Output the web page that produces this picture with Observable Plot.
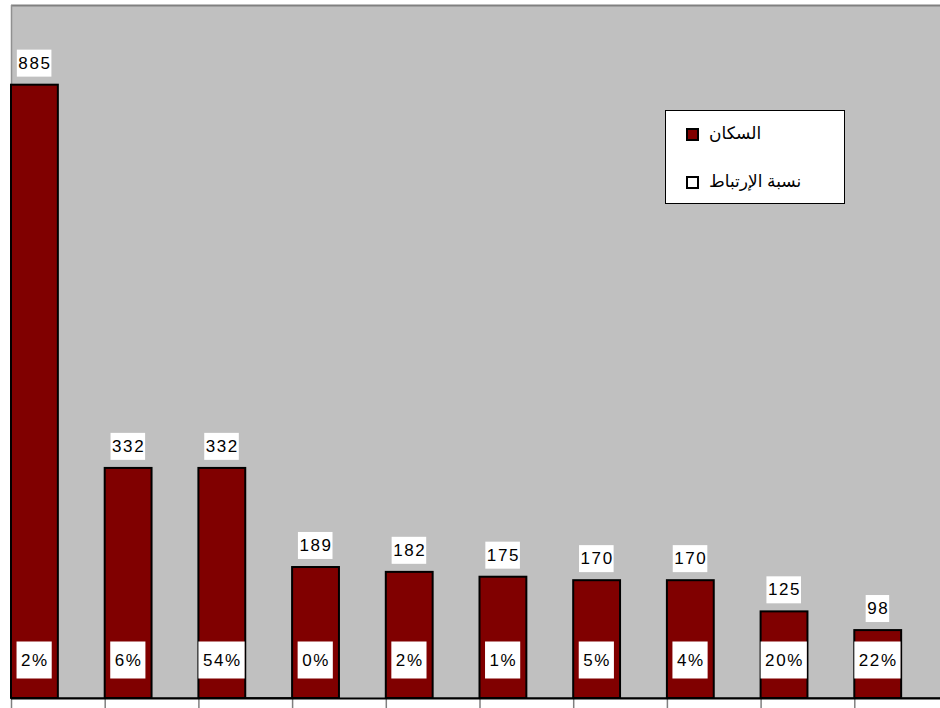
<!DOCTYPE html>
<html>
<head>
<meta charset="utf-8">
<script src="https://cdn.jsdelivr.net/npm/d3@7"></script>
<script src="https://cdn.jsdelivr.net/npm/@observablehq/plot@0.6"></script>
<style>
  html, body { margin: 0; padding: 0; background: #fff; }
  #wrap { position: relative; width: 940px; height: 708px; overflow: hidden; background: #fff; }
  #chart { width: 950px; }
  #chart svg { display: block; max-width: none !important; width: 950px !important; height: 708px !important; }
  #chart svg text { letter-spacing: 1.6px; }
  #legend { position: absolute; left: 665px; top: 110px; width: 178px; height: 92px; background: #fff; border: 1px solid #000; font-family: "Liberation Sans", "DejaVu Sans", Arial, sans-serif; font-size: 17px; color: #000; }
  .sw { position: absolute; width: 9px; height: 9px; border: 2px solid #000; }
  .lt { position: absolute; white-space: nowrap; line-height: 18px; }
</style>
</head>
<body>
<div id="wrap">
  <div id="chart"></div>
  <div id="legend"></div>
</div>
<script>
// Data
const categories = ["1","2","3","4","5","6","7","8","9","10"];
const population = [885, 332, 332, 189, 182, 175, 170, 170, 125, 98];
const ratio = [0.02, 0.06, 0.54, 0.00, 0.02, 0.01, 0.05, 0.04, 0.20, 0.22];
const ratioLabels = ["2%", "6%", "54%", "0%", "2%", "1%", "5%", "4%", "20%", "22%"];
const seriesNames = ["السكان", "نسبة الإرتباط"];
const seriesColors = ["#800000", "#ffffff"];

const data = categories.map((c, i) => ({i, c, pop: population[i], ratio: ratio[i], label: ratioLabels[i]}));
const boundaries = d3.range(categories.length + 1);

const fontFamily = '"Liberation Sans", Arial, sans-serif';

const chart = Plot.plot({
  width: 950,
  height: 708,
  marginLeft: 11,
  marginRight: 2,
  marginTop: 5,
  marginBottom: 10,
  style: {background: "#ffffff", fontFamily, fontSize: "17px", color: "#000"},
  x: {domain: [0, categories.length], axis: null},
  y: {domain: [0, 1000], axis: null},
  marks: [
    Plot.frame({fill: "#c0c0c0", stroke: null}),
    Plot.ruleY([1000], {stroke: "#808080", strokeWidth: 2}),
    Plot.ruleX([0], {stroke: "#909090", strokeWidth: 1.5}),
    Plot.rectY(data, {x1: d => d.i, x2: d => d.i + 0.5, y: "pop", fill: seriesColors[0], stroke: "#000", strokeWidth: 2}),
    Plot.rectY(data, {x1: d => d.i + 0.5, x2: d => d.i + 1, y: "ratio", fill: seriesColors[1], stroke: "#000", strokeWidth: 1}),
    Plot.ruleX(boundaries, {y1: 0, y2: -16, stroke: "#808080", strokeWidth: 1.5}),
    Plot.ruleY([0], {stroke: "#000", strokeWidth: 2}),
    Plot.text(data, {x: d => d.i + 0.25, y: "pop", dy: -22, text: d => String(d.pop), fontSize: 17, fill: "#000", ariaDescription: "vals"}),
    Plot.text(data, {x: d => d.i + 0.25, frameAnchor: "bottom", dy: -33, text: "label", fontSize: 17, fill: "#000", ariaDescription: "pcts"})
  ]
});

document.getElementById("chart").appendChild(chart);

function boxes(label, padX, h) {
  chart.querySelectorAll(`g[aria-description="${label}"] text`).forEach(t => {
    const b = t.getBBox();
    const r = document.createElementNS("http://www.w3.org/2000/svg", "rect");
    const cy = b.y + b.height / 2;
    r.setAttribute("x", b.x - padX);
    r.setAttribute("y", cy - h / 2);
    r.setAttribute("width", b.width + padX * 2 - 1.6);
    r.setAttribute("height", h);
    r.setAttribute("fill", "#fff");
    if (t.getAttribute("transform")) r.setAttribute("transform", t.getAttribute("transform"));
    t.parentNode.insertBefore(r, t);
  });
}
boxes("vals", 1.5, 27);
boxes("pcts", 4.5, 37);

// Legend
const legend = document.getElementById("legend");
seriesNames.forEach((name, k) => {
  const sw = document.createElement("div");
  sw.className = "sw";
  sw.style.left = "20px";
  sw.style.top = (17 + k * 48) + "px";
  sw.style.background = seriesColors[k];
  legend.appendChild(sw);
  const lt = document.createElement("div");
  lt.className = "lt";
  lt.style.left = "43px";
  lt.style.top = (14 + k * 48) + "px";
  lt.dir = "rtl";
  lt.textContent = name;
  legend.appendChild(lt);
});
</script>
</body>
</html>
